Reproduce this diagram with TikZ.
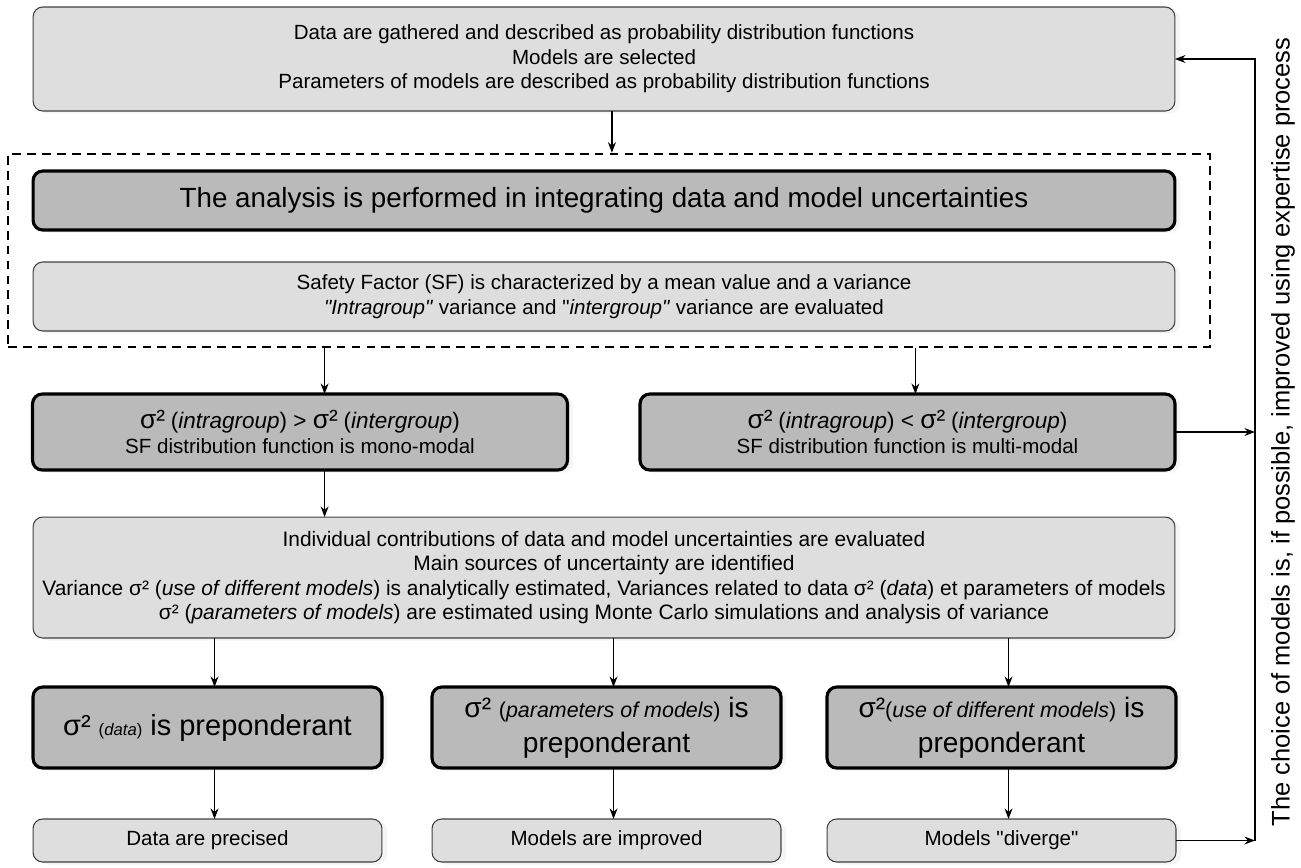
\documentclass[tikz,border=0pt]{standalone}
\usepackage{fontspec}
\setmainfont{Liberation Sans}
\usetikzlibrary{arrows.meta, shadows, calc}

\begin{document}
\begin{tikzpicture}[x=0.02cm, y=-0.02cm,
    lightbox/.style={draw=black!75, line width=0.6pt, fill=black!13, rounded corners=5.5pt,
      align=center, inner sep=0pt, outer sep=0pt,
      font=\fontsize{11.7}{13.9}\selectfont,
      drop shadow={shadow xshift=3pt, shadow yshift=-1.5pt, fill=black!8}},
    darkbox/.style={lightbox, draw=black, line width=1.8pt, fill=black!27},
    arr/.style={-{Stealth[length=6pt,width=4.5pt]}, line width=0.8pt}]
  \useasboundingbox (0,0) rectangle (1301,867);
  % dashed frame round the analysis step
  \node[draw, line width=1.4pt, dash pattern=on 5pt off 3.5pt, minimum width=24.04cm, minimum height=3.86cm, inner sep=0pt] (frame) at (609,250.5) {};
  \node[lightbox, minimum width=22.84cm, minimum height=2.08cm] (gather) at (604,59)
    {Data are gathered and described as probability distribution functions\\
     Models are selected\\
     Parameters of models are described as probability distribution functions};
  \node[darkbox, minimum width=22.84cm, minimum height=1.18cm, font=\fontsize{15.8}{18}\selectfont] (analysis) at (604,200.5)
    {The analysis is performed in integrating data and model uncertainties};
  \node[lightbox, minimum width=22.84cm, minimum height=1.38cm] (safety) at (604,296.5)
    {Safety Factor (SF) is characterized by a mean value and a variance\\
     \textit{\textquotedbl Intragroup\textquotedbl} variance and \textquotedbl\textit{intergroup\textquotedbl} variance are evaluated};
  \node[darkbox, minimum width=10.7cm, minimum height=1.52cm] (mono) at (300,432)
    {{\fontsize{15}{17}\selectfont σ²} {\fontsize{12.8}{17}\selectfont (\textit{intragroup}) > }{\fontsize{15}{17}\selectfont σ²} {\fontsize{12.8}{17}\selectfont (\textit{intergroup})}\\
     SF distribution function is mono-modal};
  \node[darkbox, minimum width=10.7cm, minimum height=1.52cm] (multi) at (907.5,432)
    {{\fontsize{15}{17}\selectfont σ²} {\fontsize{12.8}{17}\selectfont (\textit{intragroup}) < }{\fontsize{15}{17}\selectfont σ²} {\fontsize{12.8}{17}\selectfont (\textit{intergroup})}\\
     SF distribution function is multi-modal};
  \node[lightbox, minimum width=22.84cm, minimum height=2.42cm, font=\fontsize{11.9}{14}\selectfont] (indiv) at (604,577.5)
    {Individual contributions of data and model uncertainties are evaluated\\
     Main sources of uncertainty are identified\\
     Variance σ² (\textit{use of different models}) is analytically estimated, Variances related to data σ² (\textit{data}) et parameters of models\\
     σ² (\textit{parameters of models}) are estimated using Monte Carlo simulations and analysis of variance};
  \node[darkbox, minimum width=6.98cm, minimum height=1.62cm, font=\fontsize{16.5}{20}\selectfont] (sdata) at (207.5,727.5)
    {σ² {\fontsize{9.5}{11}\selectfont(\textit{data})} is preponderant};
  \node[darkbox, minimum width=6.98cm, minimum height=1.62cm, font=\fontsize{16}{20}\selectfont] (sparam) at (606.5,727.5)
    {σ² {\fontsize{12.2}{13}\selectfont(\textit{parameters of models})} is\\ preponderant};
  \node[darkbox, minimum width=6.98cm, minimum height=1.62cm, font=\fontsize{16}{20}\selectfont] (suse) at (1001.5,727.5)
    {σ²{\fontsize{12.2}{14}\selectfont(\textit{use of different models})} is\\ preponderant};
  \node[lightbox, minimum width=6.98cm, minimum height=0.86cm] (precise) at (207.5,840.5) {Data are precised};
  \node[lightbox, minimum width=6.98cm, minimum height=0.86cm] (improve) at (606.5,840.5) {Models are improved};
  \node[lightbox, minimum width=6.98cm, minimum height=0.86cm] (diverge) at (1001.5,840.5) {Models \textquotedbl diverge\textquotedbl};
  \node[rotate=90, font=\fontsize{14.5}{16}\selectfont] (choice) at (1283,432)
    {The choice of models is, if possible, improved using expertise process};
  % arrows
  \draw[arr] ([xshift=4.5pt]gather.south) -- ([xshift=4.5pt]gather.south |- frame.north);
  \draw[arr] ([xshift=14pt]mono.north |- frame.south) -- ([xshift=14pt]mono.north);
  \draw[arr] ([xshift=4.5pt]multi.north |- frame.south) -- ([xshift=4.5pt]multi.north);
  \draw[arr] ([xshift=14pt]mono.south) -- ([xshift=14pt]mono.south |- indiv.north);
  \foreach \b/\r in {sdata/precise, sparam/improve, suse/diverge} {
    \draw[arr] ([xshift=4pt]\b.north |- indiv.south) -- ([xshift=4pt]\b.north);
    \draw[arr] ([xshift=4pt]\b.south) -- ([xshift=4pt]\r.north);
  }
  % feedback loop
  \coordinate (fb) at (1255,0);
  \draw[arr] (multi.east) -- (multi.east -| fb);
  \draw[arr] (diverge.east) -- (diverge.east -| fb);
  \draw[arr] (diverge.east -| fb) -- (gather.east -| fb) -- (gather.east);
\end{tikzpicture}
\end{document}
